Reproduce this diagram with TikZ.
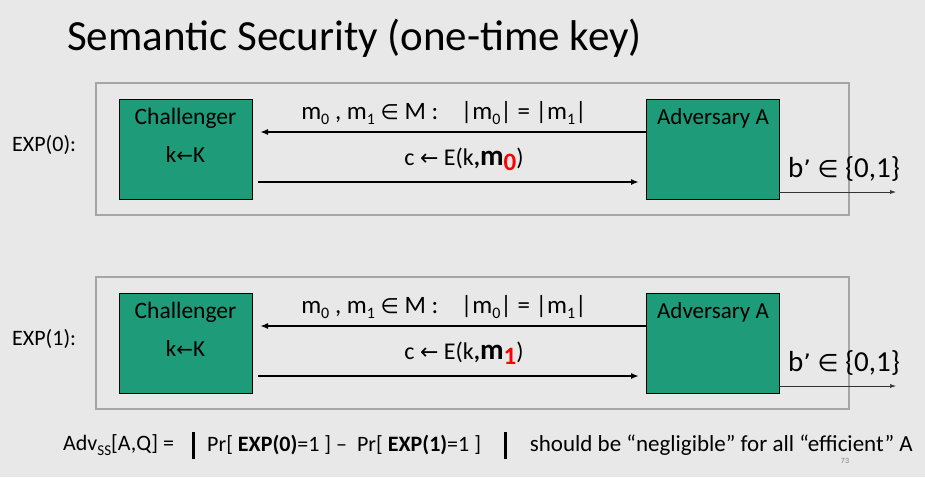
\documentclass[tikz,border=0pt]{standalone}
\usepackage{fontspec}
\setmainfont{Carlito}
\newfontfamily\symf{DejaVu Sans}
\usetikzlibrary{arrows.meta}
\definecolor{bg}{HTML}{E8E8E8}
\definecolor{teal}{HTML}{1E9B78}
\definecolor{frame}{HTML}{A6A6A6}
\newcommand{\mysub}[1]{\raisebox{-5pt}{\fontsize{16}{18}\selectfont #1}}
\newcommand{\bigbar}{\raisebox{-7pt}{\rule{3pt}{27pt}}}
\begin{document}
\begin{tikzpicture}[x=1pt,y=-1pt,
  party/.style={draw=black,line width=1pt,fill=teal,minimum width=133pt,minimum height=100pt,inner sep=0pt},
  outer/.style={draw=frame,line width=2.5pt,minimum width=753pt,minimum height=132pt,inner sep=0pt},
  msg/.style={-{Latex[length=8pt,width=6pt]},line width=2.2pt},
  outa/.style={-{Latex[length=6pt,width=4pt]},line width=0.6pt,draw=black!80},
  lbl/.style={font=\fontsize{24}{28}\selectfont,inner sep=0pt},
  btxt/.style={font=\fontsize{22}{26}\selectfont,inner sep=0pt}]
\fill[bg] (0,0) rectangle (925,477);
\node[anchor=west,font=\fontsize{43}{50}\selectfont,inner sep=0pt] (title) at (67,38) {Semantic Security (one-time key)};
\foreach \i/\dy in {0/0,1/194}{
  \begin{scope}[yshift=-\dy pt]
  \node[outer] (box\i) at (472.5,149) {};
  \node[party] (ch\i) at (185.5,149) {};
  \node[party] (ad\i) at (713,149) {};
  \node[lbl,font=\fontsize{23.5}{27}\selectfont] (cht\i) at (185.5,118) {Challenger};
  \node[lbl,font=\fontsize{23}{27}\selectfont] (chk\i) at (185.5,155) {k{\symf\fontsize{20}{24}\selectfont←}K};
  \node[lbl,font=\fontsize{23}{27}\selectfont] (adt\i) at (713,118) {Adversary A};
  \node[lbl,font=\fontsize{22}{26}\selectfont,anchor=west] (exp\i) at (12,145) {EXP(\i):};
  \coordinate (ta\i) at (647,132);
  \coordinate (tb\i) at (260,132);
  \coordinate (ba\i) at (258,182);
  \coordinate (bb\i) at (639,182);
  \coordinate (oa\i) at (779,192);
  \coordinate (ob\i) at (896,192);
  \draw[msg] (ta\i) -- (tb\i);
  \draw[msg] (ba\i) -- (bb\i);
  \draw[outa] (oa\i) -- (ob\i);
  \node[lbl,font=\fontsize{25}{29}\selectfont] (m\i) at (444,113) {m\mysub{0} , m\mysub{1} {\symf\fontsize{21}{24}\selectfont∈} M :\hspace{0.9em}|m\mysub{0}| = |m\mysub{1}|};
  \node[lbl] (c\i) at (464,159) {c {\symf\fontsize{22}{24}\selectfont←} E(k\textbf{,\fontsize{29}{32}\selectfont m\raisebox{-5pt}{\textcolor{red}{\fontsize{25}{28}\selectfont\i}}})};
  \node[lbl,anchor=west,font=\fontsize{29}{33}\selectfont] (b\i) at (788,169) {b{\symf\fontsize{24}{28}\selectfont’} {\symf\fontsize{24}{28}\selectfont∈} \{0,1\}};
  \end{scope}
}
\node[btxt,anchor=west] (adv) at (63,445) {Adv\raisebox{-5pt}{\fontsize{15}{17}\selectfont SS}[A,Q] =};
\node[btxt] (bar1) at (193,445) {\bigbar};
\node[btxt,anchor=west] (pr) at (207,445) {Pr[ \textbf{EXP(0)}=1 ] --\ \ Pr[ \textbf{EXP(1)}=1 ]};
\node[btxt] (bar2) at (505,445) {\bigbar};
\node[btxt,anchor=east,font=\fontsize{23}{27}\selectfont] (neg) at (913,445) {should be “negligible” for all “efficient” A};
\node[inner sep=0pt,font=\fontsize{8}{9}\selectfont,text=black!50] (pg) at (845,461) {73};
\end{tikzpicture}
\end{document}
